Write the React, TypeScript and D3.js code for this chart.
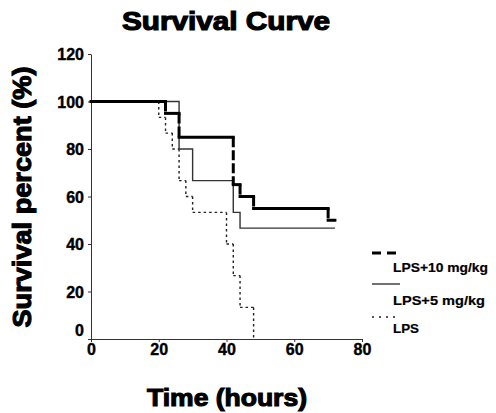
import React from "react";
import * as d3 from "d3";

// step points (hours, percent surviving)
const lps10Time = [0, 22, 26, 42, 44, 48, 70, 72];
const lps10Surv = [100, 95, 85, 65, 60, 55, 50, 50];

const lps5Time = [0, 26, 30, 42, 44, 72];
const lps5Surv = [100, 80, 66.7, 53.3, 46.7, 46.7];

const lpsTime = [0, 20, 22, 24, 26, 28, 30, 40, 42, 44, 48];
const lpsSurv = [100, 93.3, 86.7, 80, 66.7, 60, 53.3, 40, 26.7, 13.3, 0];

const xTicks = [0, 20, 40, 60, 80];
const yTicks = [0, 20, 40, 60, 80, 100, 120];
const legendLabels = ["LPS+10 mg/kg", "LPS+5 mg/kg", "LPS"];

const font = "'Liberation Sans', Arial, sans-serif";

function steps(time, surv) {
    // split a step curve into horizontal and vertical pieces
    const h = [];
    const v = [];
    for (let i = 0; i < time.length - 1; i++) {
        h.push([[time[i], surv[i]], [time[i + 1], surv[i]]]);
        if (surv[i + 1] !== surv[i])
            v.push([[time[i + 1], surv[i]], [time[i + 1], surv[i + 1]]]);
    }
    return { h, v };
}

export default function App() {
    const ref = React.useRef(null);

    React.useEffect(() => {
        drawChart();
    }, []);

    function drawChart() {
        d3.select(ref.current).selectAll("*").remove();
        const svg = d3.select(ref.current);

        const x = d3.scaleLinear().domain([0, 80]).range([91, 362]);
        const y = d3.scaleLinear().domain([0, 120]).range([339, 54]);
        const line = d3.line().x((d) => x(d[0])).y((d) => y(d[1]));

        // axes
        const yAxis = svg.append("g").attr("transform", "translate(91,0)")
            .call(d3.axisLeft(y).tickValues(yTicks).tickSize(3).tickSizeOuter(0));
        yAxis.select(".domain").attr("stroke", "#333");
        yAxis.selectAll(".tick line").attr("stroke", "#333");
        yAxis.selectAll(".tick text")
            .attr("font-family", font).attr("font-weight", "bold").attr("font-size", 16)
            .attr("fill", "#000").attr("stroke", "#000").attr("stroke-width", 0.4)
            .attr("x", -7)
            .attr("dy", (d) => (d === 0 ? "-0.25em" : "0.36em"));

        const xAxis = svg.append("g").attr("transform", "translate(0,339)")
            .call(d3.axisBottom(x).tickValues(xTicks).tickSize(3).tickSizeOuter(0));
        xAxis.select(".domain").attr("stroke", "#333");
        xAxis.selectAll(".tick line").attr("stroke", "#333");
        xAxis.selectAll(".tick text")
            .attr("font-family", font).attr("font-weight", "bold").attr("font-size", 16)
            .attr("fill", "#000").attr("stroke", "#000").attr("stroke-width", 0.4)
            .attr("y", 5).attr("dy", "0.71em");

        // LPS (dotted)
        const s0 = steps(lpsTime, lpsSurv);
        svg.selectAll("path.lps").data([...s0.h, ...s0.v]).enter().append("path")
            .attr("d", line).attr("fill", "none").attr("stroke", "#222")
            .attr("stroke-width", 1.4).attr("stroke-dasharray", "2.5,3");

        // LPS+5 (thin solid)
        svg.append("path")
            .datum(lps5Time.map((t, i) => [t, lps5Surv[i]]))
            .attr("d", line.curve(d3.curveStepAfter)).attr("fill", "none")
            .attr("stroke", "#333").attr("stroke-width", 1.4);
        line.curve(d3.curveLinear);

        // LPS+10 (thick, dashed drops)
        const s1 = steps(lps10Time, lps10Surv);
        svg.selectAll("path.h10").data(s1.h).enter().append("path")
            .attr("d", line).attr("fill", "none").attr("stroke", "#000")
            .attr("stroke-width", 3).attr("stroke-linecap", "square");
        svg.selectAll("path.v10").data(s1.v).enter().append("path")
            .attr("d", line).attr("fill", "none").attr("stroke", "#000")
            .attr("stroke-width", 3).attr("stroke-dasharray", "10,3");

        // legend
        const ly = [253, 284, 317];
        const lTextY = [272, 305, 333];
        const lTextW = [95, 92, 26];
        const lStyles = [
            { w: 3.2, dash: "9,6", x2: 396, c: "#000" },
            { w: 1.4, dash: null, x2: 400, c: "#333" },
            { w: 1.4, dash: "2,5", x2: 398, c: "#222" },
        ];
        legendLabels.forEach((lab, i) => {
            svg.append("line").attr("x1", 372).attr("x2", lStyles[i].x2)
                .attr("y1", ly[i]).attr("y2", ly[i])
                .attr("stroke", lStyles[i].c).attr("stroke-width", lStyles[i].w)
                .attr("stroke-dasharray", lStyles[i].dash);
            svg.append("text").attr("x", 393).attr("y", lTextY[i])
                .attr("font-family", font).attr("font-weight", "bold").attr("font-size", 13)
                .attr("stroke", "#000").attr("stroke-width", 0.2)
                .attr("textLength", lTextW[i]).attr("lengthAdjust", "spacingAndGlyphs")
                .text(lab);
        });

        // titles
        svg.append("text").attr("x", 226).attr("y", 30).attr("text-anchor", "middle")
            .attr("font-family", font).attr("font-weight", "bold").attr("font-size", 26)
            .attr("stroke", "#000").attr("stroke-width", 1.2)
            .attr("textLength", 208).attr("lengthAdjust", "spacingAndGlyphs")
            .text("Survival Curve");
        svg.append("text").attr("x", 227).attr("y", 406).attr("text-anchor", "middle")
            .attr("font-family", font).attr("font-weight", "bold").attr("font-size", 24)
            .attr("stroke", "#000").attr("stroke-width", 1.1)
            .attr("textLength", 160).attr("lengthAdjust", "spacingAndGlyphs")
            .text("Time (hours)");
        svg.append("text").attr("transform", "translate(31,197) rotate(-90)")
            .attr("text-anchor", "middle")
            .attr("font-family", font).attr("font-weight", "bold").attr("font-size", 26)
            .attr("stroke", "#000").attr("stroke-width", 1.1)
            .attr("textLength", 261).attr("lengthAdjust", "spacingAndGlyphs")
            .text("Survival percent (%)");
    }

    return (
        <svg ref={ref} width={496} height={413}
            style={{ position: "absolute", left: 0, top: 0, background: "#fff" }} />
    );
}
